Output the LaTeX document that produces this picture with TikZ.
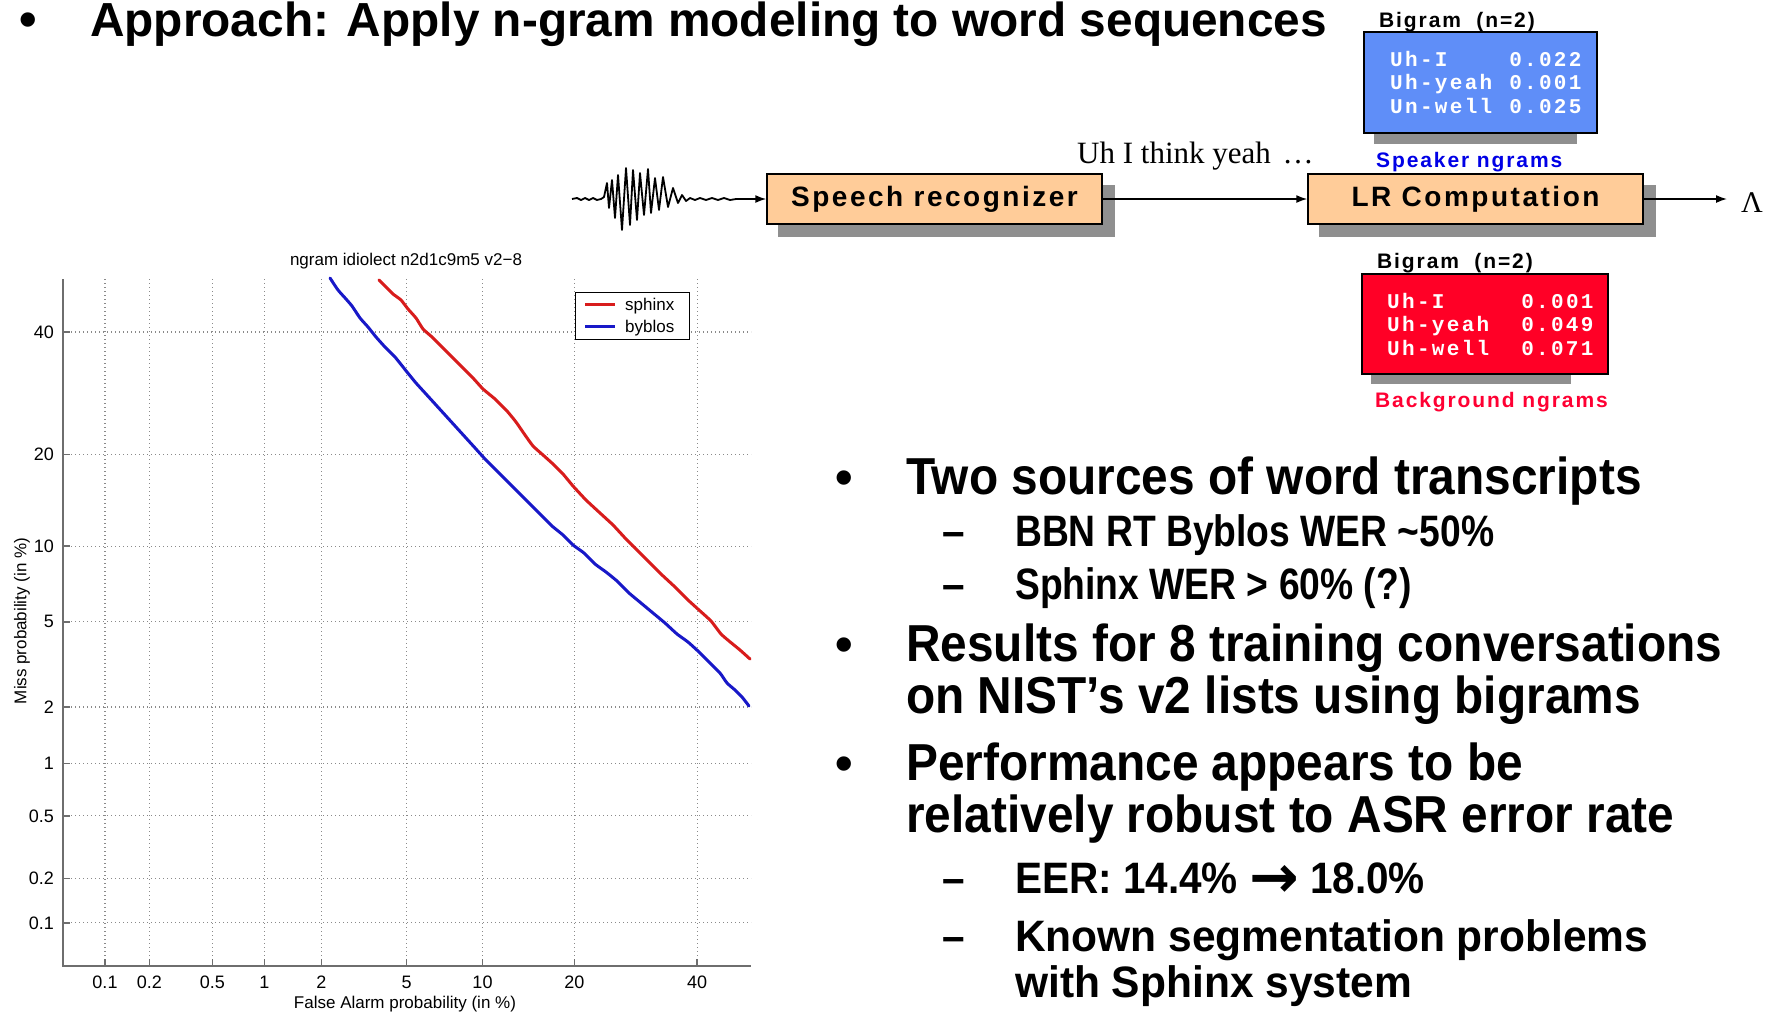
\documentclass[tikz,border=0pt]{standalone}
\usepackage{fontspec}
\usetikzlibrary{arrows.meta,backgrounds,calc}
\setmainfont{Liberation Sans}
\newfontfamily\headfont{Liberation Sans}
\newfontfamily\bodyfont{Liberation Sans}[FakeStretch=0.92]
\newfontfamily\boxwidefont{Liberation Sans}[LetterSpace=9]
\newfontfamily\tagfont{Liberation Sans}[LetterSpace=9]
\newfontfamily\monofont{Liberation Mono}[LetterSpace=11]
\newfontfamily\romanfont{Liberation Serif}
\newfontfamily\plotfont{Liberation Sans}
\newfontfamily\arrowfont{DejaVu Sans}

\definecolor{peach}{HTML}{FFCC99}
\definecolor{shade}{HTML}{8F8F8F}
\definecolor{spkfill}{HTML}{5F8EF8}
\definecolor{spktext}{HTML}{0000E6}
\definecolor{bgfill}{HTML}{FF0026}
\definecolor{bgtext}{HTML}{FF0033}
\definecolor{curvered}{HTML}{D81C1C}
\definecolor{curveblue}{HTML}{1818C8}
\definecolor{axisgray}{HTML}{6E6E6E}
\definecolor{gridgray}{HTML}{8A8A8A}

\tikzset{
  procbox/.style={draw=black, line width=1.5pt, fill=peach, minimum width=335pt,
    minimum height=50pt, inner sep=0pt, font=\boxwidefont\bfseries\fontsize{28}{28}\selectfont},
  ngrambox/.style={draw=black, line width=1.3pt, inner sep=0pt},
  shadefill/.style={fill=shade},
  flow/.style={line width=1.5pt, -{Latex[length=11pt,width=8pt]}},
  tag/.style={anchor=base west, inner sep=0pt, font=\tagfont\bfseries\fontsize{21}{21}\selectfont},
  tabtext/.style={anchor=base west, inner sep=0pt, text=white,
    font=\monofont\bfseries\fontsize{21}{23.5}\selectfont},
  headline/.style={anchor=base west, inner sep=0pt, font=\headfont\bfseries\fontsize{47.8}{47.8}\selectfont},
  bulletmark/.style={anchor=base, inner sep=0pt, font=\headfont\bfseries\fontsize{50}{50}\selectfont},
  bodyline/.style={anchor=base west, inner sep=0pt, font=\bodyfont\bfseries\fontsize{52}{52}\selectfont},
  subline/.style={anchor=base west, inner sep=0pt, font=\bodyfont\bfseries\fontsize{44}{44}\selectfont},
  dashglyph/.style={anchor=base, inner sep=0pt, font=\bodyfont\bfseries\fontsize{44}{44}\selectfont},
  gridline/.style={gridgray, line width=1.1pt, dash pattern=on 1.2pt off 2.8pt},
  axisline/.style={axisgray, line width=2pt},
  ticklab/.style={inner sep=0pt, font=\plotfont\fontsize{18}{18}\selectfont},
  plotlab/.style={inner sep=0pt, font=\plotfont\fontsize{17}{17}\selectfont},
  curve/.style={line width=3pt, line join=round, line cap=round},
}

\begin{document}
\begin{tikzpicture}[x=1pt,y=-1pt]
\useasboundingbox (0,0) rectangle (1772,1013);

% ---------- heading ----------
\node[bulletmark] (b0) at (28,36) {•};
\node[headline] (title) at (90,36) {Approach: Apply n-gram modeling to word sequences};

% ---------- processing chain ----------
\node[procbox] (sr) at (934.5,199) {Speech recognizer};
\node[procbox] (lr) at (1475.5,199) {LR Computation};

\node[ngrambox, fill=spkfill, minimum width=233pt, minimum height=101pt] (spk) at (1480.5,82.5) {};
\node[tabtext] (spktab) at (1390,66) {\begin{tabular}[t]{@{}l@{\hspace{17pt}}l@{}}Uh-I & 0.022\\ Uh-yeah & 0.001\\ Un-well & 0.025\end{tabular}};
\node[tag] (spkhead) at (1379,27) {Bigram\ \ (n=2)};
\node[tag, text=spktext] (spklab) at (1376,167) {Speaker ngrams};

\node[ngrambox, fill=bgfill, minimum width=246pt, minimum height=100pt] (bg) at (1485,324) {};
\node[tabtext] (bgtab) at (1387,308) {\begin{tabular}[t]{@{}l@{\hspace{32pt}}l@{}}Uh-I & 0.001\\ Uh-yeah & 0.049\\ Uh-well & 0.071\end{tabular}};
\node[tag] (bghead) at (1377,268) {Bigram\ \ (n=2)};
\node[tag, text=bgtext] (bglab) at (1375,407) {Background ngrams};

\begin{scope}[on background layer]
  \fill[white] (0,0) rectangle (1772,1013);
  \fill[shadefill] ($(sr.north west)+(12,12)$) rectangle ($(sr.south east)+(12,12)$);
  \fill[shadefill] ($(lr.north west)+(12,12)$) rectangle ($(lr.south east)+(12,12)$);
  \fill[shadefill] ($(spk.north west)+(11,8)$) rectangle ($(spk.south east)+(-21,10)$);
  \fill[shadefill] ($(bg.north west)+(10,6)$) rectangle ($(bg.south east)+(-38,9)$);
\end{scope}

% speech waveform feeding the recognizer
\draw[line width=1.8pt, line join=round] plot coordinates {
 (572,199) (577,198) (581,200) (585,198) (589,200) (593,198) (597,200) (601,199)
 (604,197) (607,183) (609,208) (612,180) (615,218) (618,175) (622,230) (626,168)
 (630,225) (633,170) (637,220) (640,173) (644,215) (648,169) (651,213) (655,178)
 (659,210) (663,177) (668,207) (673,188) (678,203) (682,195) (686,201) (690,198)
 (695,200) (700,198) (706,200) (712,198) (718,200) (724,198) (730,200) (736,199) (742,199)};
\coordinate (wend) at (742,199);
\coordinate (lamend) at (1727,199);

\draw[flow] (wend) -- (sr.west);
\draw[flow] (sr.east) -- (lr.west);
\draw[flow] (lr.east) -- (lamend);

\node[anchor=base west, inner sep=0pt, font=\romanfont\fontsize{31}{31}\selectfont] (hyp) at (1077,163) {Uh I think yeah\hspace{4pt} …};
\node[anchor=base, inner sep=0pt, font=\romanfont\fontsize{30}{30}\selectfont] (lam) at (1752,212) {Λ};

% ---------- DET plot ----------
\foreach \x in {105,149.4,212.4,264.5,321.3,406.7,482.5,574.4,697.1}
  \draw[gridline] (\x,279) -- (\x,966);
\foreach \y in {332,454.5,546.2,621.8,707,763.7,815.8,878.7,922.9}
  \draw[gridline] (63,\y) -- (751,\y);

\draw[axisline] (63,279) -- (63,966) -- (751,966);
\foreach \x in {105,149.4,212.4,264.5,321.3,406.7,482.5,574.4,697.1}
  \draw[axisgray, line width=1.5pt] (\x,966) -- (\x,959);
\foreach \y in {332,454.5,546.2,621.8,707,763.7,815.8,878.7,922.9}
  \draw[axisgray, line width=1.5pt] (63,\y) -- (70,\y);

\foreach \x/\t [count=\i] in {105/0.1,149.4/0.2,212.4/0.5,264.5/1,321.3/2,406.7/5,482.5/10,574.4/20,697.1/40}
  \node[ticklab, anchor=base] (xt\i) at (\x,988) {\t};
\foreach \y/\t [count=\i] in {332/40,454.5/20,546.2/10,621.8/5,707/2,763.7/1,815.8/0.5,878.7/0.2,922.9/0.1}
  \node[ticklab, anchor=east] (yt\i) at (54,\y) {\t};

\node[plotlab, anchor=base] (ptitle) at (406,265) {ngram idiolect n2d1c9m5 v2−8};
\node[plotlab, anchor=base] (xlab) at (405,1008) {False Alarm probability (in \%)};
\node[plotlab, rotate=90] (ylab) at (22,621) {Miss probability (in \%)};

% sphinx
\draw[curve, curvered] plot[smooth, tension=0.3] coordinates {
 (379,280) (386,287) (393,294) (401,300) (408,309) (416,318) (423,329) (432,337)
 (441,346) (453,358) (463,368) (473,378) (483,389) (495,399) (507,411) (516,422)
 (525,435) (533,446) (543,455) (553,464) (563,474) (573,486) (586,500) (600,513)
 (613,525) (626,539) (638,551) (650,563) (661,574) (675,587) (688,600) (699,610)
 (711,621) (721,634) (729,641) (740,650) (750,659)};
% byblos
\draw[curve, curveblue] plot[smooth, tension=0.3] coordinates {
 (330,278) (338,290) (346,299) (352,306) (360,318) (368,327) (376,337) (385,347)
 (395,357) (407,372) (416,383) (426,394) (436,405) (446,416) (456,427) (466,438)
 (476,449) (485,459) (496,470) (507,481) (518,492) (528,502) (540,514) (552,526)
 (563,535) (573,545) (584,553) (595,564) (606,572) (617,581) (629,593) (641,603)
 (653,613) (665,623) (677,634) (688,642) (699,652) (710,663) (720,673) (727,683)
 (735,690) (742,697) (749,706)};

% legend
\node[draw=black, line width=1pt, fill=white, minimum width=114pt, minimum height=47pt, inner sep=0pt] (legend) at (632,315.5) {};
\draw[curve, curvered, line cap=butt] (585,304) -- (615,304);
\draw[curve, curveblue, line cap=butt] (585,326) -- (615,326);
\node[plotlab, anchor=base west] (legsphinx) at (625,310) {sphinx};
\node[plotlab, anchor=base west] (legbyblos) at (625,332) {byblos};

% ---------- bullet list ----------
\node[bulletmark] (b1) at (844,494) {•};
\node[bodyline] (l1) at (906,494) {Two sources of word transcripts};
\node[dashglyph] (d1) at (954,546) {–};
\node[subline] (l1a) at (1015,546) {\scalebox{0.92}[1]{BBN RT Byblos WER \char`~50\%}};
\node[dashglyph] (d2) at (954,599) {–};
\node[subline] (l1b) at (1015,599) {\scalebox{0.92}[1]{Sphinx WER > 60\% (?)}};

\node[bulletmark] (b2) at (844,661) {•};
\node[bodyline] (l2) at (906,661) {Results for 8 training conversations};
\node[bodyline] (l2b) at (906,713) {on NIST’s v2 lists using bigrams};

\node[bulletmark] (b3) at (844,780) {•};
\node[bodyline] (l3) at (906,780) {Performance appears to be};
\node[bodyline] (l3b) at (906,832) {relatively robust to ASR error rate};
\node[dashglyph] (d3) at (954,893) {–};
\node[subline] (l3c) at (1015,893) {EER: 14.4\% \raisebox{-4pt}{\arrowfont\bfseries\scalebox{1.35}{→}} 18.0\%};
\node[dashglyph] (d4) at (954,951) {–};
\node[subline] (l3d) at (1015,951) {\scalebox{1.05}[1]{Known segmentation problems}};
\node[subline] (l3e) at (1015,997) {\scalebox{1.05}[1]{with Sphinx system}};
\end{tikzpicture}
\end{document}
